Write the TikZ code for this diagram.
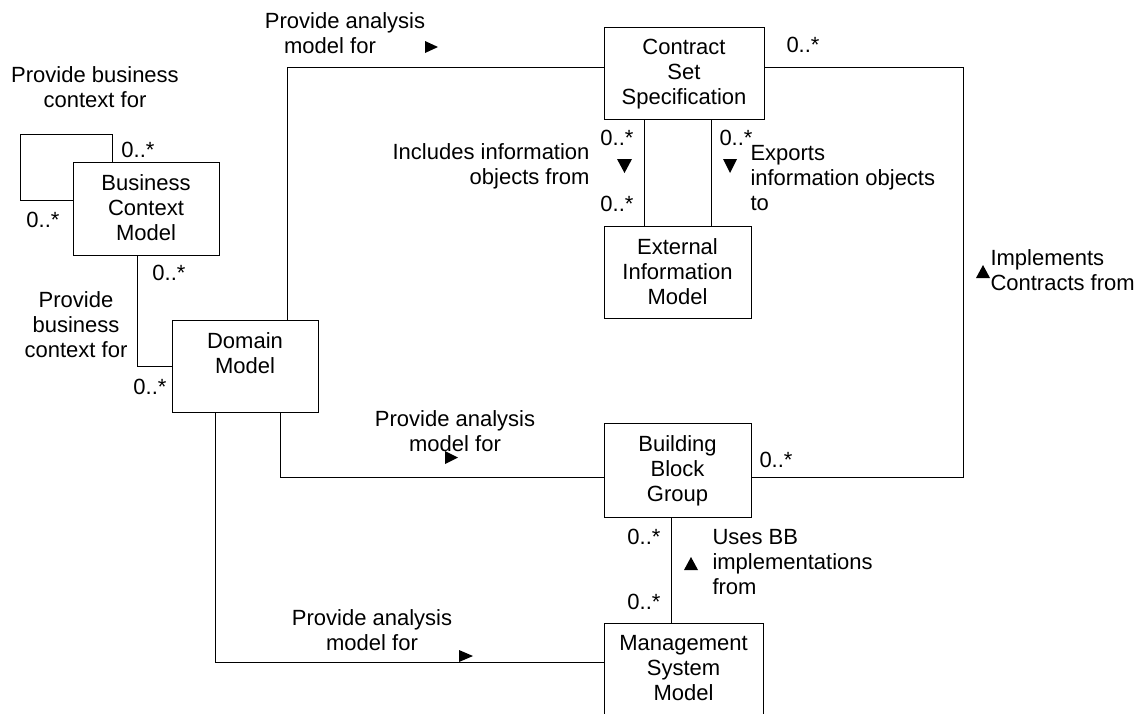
\documentclass[tikz,border=0pt]{standalone}
\usepackage{fontspec}
\setmainfont{Liberation Sans}
\usetikzlibrary{positioning}

\begin{document}
\begin{tikzpicture}[x=1pt, y=-1pt, line width=1pt,
  every node/.style={font=\fontsize{22}{25}\selectfont},
  box/.style={draw, inner sep=0pt, outer sep=0pt},
  boxtext/.style={anchor=north, align=center, inner sep=0pt, yshift=-12pt},
  mult/.style={inner sep=0pt},
  note/.style={align=center, inner sep=0pt}]
  \clip (0,0) rectangle (1139,713);

  % classes
  \node[box, minimum width=146pt, minimum height=93pt,
    label={[boxtext]north:Business\\Context\\Model}] (bcm) at (146,208.5) {};
  \node[box, minimum width=146pt, minimum height=92pt,
    label={[boxtext]north:Domain\\Model}] (dm) at (245,366) {};
  \node[box, minimum width=160pt, minimum height=92pt,
    label={[boxtext]north:Contract\\Set\\Specification}] (css) at (684,73) {};
  \node[box, minimum width=147pt, minimum height=92pt,
    label={[boxtext]north:External\\Information\\Model}] (eim) at (677.5,272) {};
  \node[box, minimum width=147pt, minimum height=94pt,
    label={[boxtext]north:Building\\Block\\Group}] (bbg) at (677.5,470) {};
  \node[box, minimum width=159pt, minimum height=95pt,
    label={[boxtext]north:Management\\System\\Model}] (msm) at (683.5,670.5) {};

  % associations
  \coordinate (loopCorner) at (20,134);
  \draw ([xshift=39pt]bcm.north west) |- (loopCorner) |- ([yshift=-38pt]bcm.north west);
  \draw ([xshift=64pt]bcm.south west) |- (dm.west);
  \draw ([xshift=-31pt]dm.north east) |- ([yshift=-40pt]css.north west);
  \draw ([xshift=40pt]css.south west) -- ([xshift=40pt]eim.north west);
  \draw ([xshift=107pt]css.south west) -- ([xshift=107pt]eim.north west);
  \coordinate (implCorner) at (963,67);
  \draw ([yshift=-40pt]css.north east) -- (implCorner) |- ([yshift=-54pt]bbg.north east);
  \draw ([xshift=-38pt]dm.south east) |- ([yshift=-54pt]bbg.north west);
  \draw ([xshift=43pt]dm.south west) |- ([yshift=-39pt]msm.north west);
  \draw ([xshift=67pt]bbg.south west) -- ([xshift=67pt]msm.north west);

  % reading directions
  \fill (425,41) -- (438,47) -- (425,53) -- cycle;
  \fill (445,451) -- (458,457.5) -- (445,464) -- cycle;
  \fill (459,650) -- (473,656) -- (459,662) -- cycle;
  \fill (617,159) -- (632,159) -- (624.5,173) -- cycle;
  \fill (723,159) -- (737,159) -- (730,173) -- cycle;
  \fill (976,278) -- (990,278) -- (983,265) -- cycle;
  \fill (684,570) -- (698,570) -- (691,557) -- cycle;

  % association names
  \node[note] (selfName) at (95,87) {Provide business\\context for};
  \node[note] (bcmDmName) at (76,325) {Provide\\business\\context for};
  \node[note] (dmCssName) at (345,33) {Provide analysis\\model for\hspace*{30pt}};
  \node[note, align=right, anchor=east] (inclName) at (590,166) {Includes information\\objects from};
  \node[note, align=left, anchor=west] (exportName) at (750,178) {Exports\\information objects\\to};
  \node[note, align=left, anchor=west] (implName) at (990,270) {Implements\\Contracts from};
  \node[note] (dmBbgName) at (455,431) {Provide analysis\\model for};
  \node[note, align=left, anchor=west] (usesName) at (712,562) {Uses BB\\implementations\\from};
  \node[note] (dmMsmName) at (372,630) {Provide analysis\\model for};

  % multiplicities
  \node[mult] (mSelfA) at (138,150) {0..*};
  \node[mult] (mSelfB) at (43,220) {0..*};
  \node[mult] (mBcm) at (169,273) {0..*};
  \node[mult] (mDm) at (150,387) {0..*};
  \node[mult] (mInclA) at (617,138) {0..*};
  \node[mult] (mInclB) at (617,204) {0..*};
  \node[mult] (mExport) at (736,138) {0..*};
  \node[mult] (mCss) at (803,45) {0..*};
  \node[mult] (mBbgR) at (776,460) {0..*};
  \node[mult] (mBbgB) at (644,537) {0..*};
  \node[mult] (mMsm) at (644,602) {0..*};
\end{tikzpicture}
\end{document}
